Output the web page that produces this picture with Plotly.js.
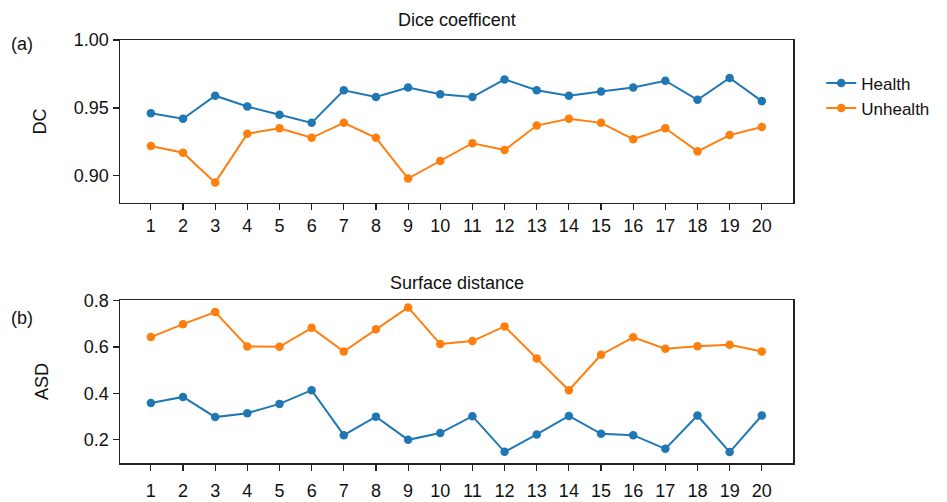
<!DOCTYPE html>
<html>
<head>
<meta charset="utf-8">
<script src="https://cdn.plot.ly/plotly-3.0.1.min.js"></script>
<style>html,body{margin:0;padding:0;background:#fff;}#chart{width:947px;height:502px;}</style>
</head>
<body>
<div id="chart"></div>
<script>
const cases = [1,2,3,4,5,6,7,8,9,10,11,12,13,14,15,16,17,18,19,20];
const dcHealth = [0.946,0.942,0.959,0.951,0.945,0.939,0.963,0.958,0.965,0.960,0.958,0.971,0.963,0.959,0.962,0.965,0.970,0.956,0.972,0.955];
const dcUnhealth = [0.922,0.917,0.895,0.931,0.935,0.928,0.939,0.928,0.898,0.911,0.924,0.919,0.937,0.942,0.939,0.927,0.935,0.918,0.930,0.936];
const asdHealth = [0.359,0.385,0.298,0.315,0.355,0.414,0.220,0.300,0.200,0.229,0.302,0.148,0.223,0.303,0.226,0.220,0.161,0.305,0.147,0.305];
const asdUnhealth = [0.643,0.699,0.751,0.603,0.601,0.683,0.581,0.677,0.771,0.613,0.626,0.689,0.551,0.414,0.567,0.642,0.593,0.604,0.610,0.581];
const seriesNames = ['Health','Unhealth'];
const colors = ['#1f77b4','#ff7f0e'];
const titles = ['Dice coefficent','Surface distance'];
const panelLabels = ['(a)','(b)'];
const yTitles = ['DC','ASD'];

const FONT = 'Liberation Sans, Arial, sans-serif';
const FS = 18;
function tr(x, y, i, xa, ya, show) {
  return {x: x, y: y, name: seriesNames[i], type: 'scatter', mode: 'lines+markers',
    xaxis: xa, yaxis: ya, showlegend: show, legendgroup: seriesNames[i],
    line: {color: colors[i], width: 2}, marker: {color: colors[i], size: 8.5}};
}
const data = [
  tr(cases, dcHealth, 0, 'x', 'y', true),
  tr(cases, dcUnhealth, 1, 'x', 'y', true),
  tr(cases, asdHealth, 0, 'x2', 'y2', false),
  tr(cases, asdUnhealth, 1, 'x2', 'y2', false)
];
const axBase = {showline: true, mirror: true, linecolor: '#222', linewidth: 1.5,
  ticks: 'outside', ticklen: 6, tickwidth: 1.2, tickcolor: '#222', showgrid: false, zeroline: false,
  tickfont: {family: FONT, size: FS, color: '#111'}};
const xBase = Object.assign({}, axBase, {range: [0.04, 20.97], tickvals: cases, ticktext: cases.map(String)});
const layout = {
  width: 947, height: 502,
  margin: {l: 120, r: 150, t: 40, b: 39},
  paper_bgcolor: '#fff', plot_bgcolor: '#fff',
  font: {family: FONT, size: FS, color: '#111'},
  xaxis: Object.assign({}, xBase, {domain: [0, 1], anchor: 'y'}),
  yaxis: Object.assign({}, axBase, {domain: [0.6147, 1], anchor: 'x', range: [0.88, 1.0],
    tickvals: [0.90, 0.95, 1.00], ticktext: ['0.90','0.95','1.00'],
    title: {text: yTitles[0], font: {family: FONT, size: FS, color: '#111'}, standoff: 22}}),
  xaxis2: Object.assign({}, xBase, {domain: [0, 1], anchor: 'y2', ticklabelstandoff: 5}),
  yaxis2: Object.assign({}, axBase, {domain: [0, 0.3853], anchor: 'x2', range: [0.1, 0.803],
    tickvals: [0.2, 0.4, 0.6, 0.8], ticktext: ['0.2','0.4','0.6','0.8'],
    title: {text: yTitles[1], font: {family: FONT, size: FS, color: '#111'}, standoff: 30}}),
  legend: {x: 1.042, y: 0.94, xanchor: 'left', yanchor: 'top', font: {family: FONT, size: 17, color: '#111'},
    bgcolor: 'rgba(0,0,0,0)', itemwidth: 30, tracegroupgap: 0},
  annotations: [
    {text: titles[0], xref: 'paper', yref: 'paper', x: 0.5, y: 1.047, xanchor: 'center', yanchor: 'middle', showarrow: false, font: {family: FONT, size: FS, color: '#111'}},
    {text: titles[1], xref: 'paper', yref: 'paper', x: 0.5, y: 0.4255, xanchor: 'center', yanchor: 'middle', showarrow: false, font: {family: FONT, size: FS, color: '#111'}},
    {text: panelLabels[0], xref: 'paper', yref: 'paper', x: -0.145, y: 0.9905, xanchor: 'center', yanchor: 'middle', showarrow: false, font: {family: FONT, size: FS, color: '#111'}},
    {text: panelLabels[1], xref: 'paper', yref: 'paper', x: -0.145, y: 0.3428, xanchor: 'center', yanchor: 'middle', showarrow: false, font: {family: FONT, size: FS, color: '#111'}}
  ]
};
Plotly.newPlot('chart', data, layout, {displayModeBar: false, staticPlot: true});
</script>
</body>
</html>
